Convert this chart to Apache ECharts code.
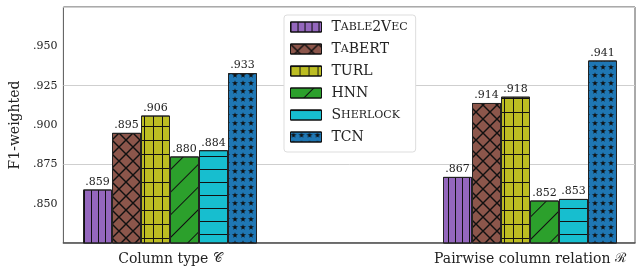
<!DOCTYPE html>
<html>
<head>
<meta charset="utf-8">
<script src="https://cdn.jsdelivr.net/npm/echarts@6/dist/echarts.min.js"></script>
<style>
  html, body { margin: 0; padding: 0; background: #fff; }
  #chart { width: 641px; height: 269px; }
</style>
</head>
<body>
<div id="chart"></div>
<script>
// data
const groups = ['Column type', 'Pairwise column relation'];
const methods = ['Table2Vec', 'TaBERT', 'TURL', 'HNN', 'Sherlock', 'TCN'];
const table2vec = [0.859, 0.867];
const tabert = [0.895, 0.914];
const turl = [0.906, 0.918];
const hnn = [0.880, 0.852];
const sherlock = [0.884, 0.853];
const tcn = [0.933, 0.941];
const yTicks = [0.850, 0.875, 0.900, 0.925, 0.950];

const values = [table2vec, tabert, turl, hnn, sherlock, tcn];
const colors = ['#9467bd', '#8c564b', '#bcbd22', '#2ca02c', '#17becf', '#1f77b4'];
const serif = 'DejaVu Serif';
const ink = '#111';

const star = 'path://M50,0L61.2,34.6L97.6,34.5L68.1,55.9L79.4,90.5L50,69L20.6,90.5L31.9,55.9L2.4,34.5L38.8,34.6Z';
const cross = 'path://M0,0L1,0L14,13L14,14L13,14L0,1ZM14,0L14,1L1,14L0,14L0,13L13,0Z';
const plus = 'path://M0,0L9,0L9,1L1,1L1,14L0,14Z';

const decals = [
  { symbol: 'rect', symbolSize: 1, dashArrayX: [1, 6], dashArrayY: [10, 0], color: ink },
  { symbol: cross, symbolSize: 1, dashArrayX: [14, 0], dashArrayY: [14, 0], color: ink },
  { symbol: plus, symbolSize: 1, dashArrayX: [9, 0], dashArrayY: [14, 0], color: ink },
  { symbol: 'rect', symbolSize: 1, dashArrayX: [10, 0], dashArrayY: [1, 15], rotation: -Math.PI / 4, color: ink },
  { symbol: 'rect', symbolSize: 1, dashArrayX: [10, 0], dashArrayY: [1, 12], color: ink },
  { symbol: star, symbolSize: 1, dashArrayX: [6, 2], dashArrayY: [6, 2], color: ink }
];

// spacer category in the middle so the two groups sit where they do in the figure
const cats = [groups[0], '', groups[1]];

function smallCaps(name) {
  let out = '';
  let buf = '';
  for (const ch of name) {
    if (ch >= 'a' && ch <= 'z') {
      buf += ch.toUpperCase();
    } else {
      if (buf) { out += '{s|' + buf + '}'; buf = ''; }
      out += '{b|' + ch + '}';
    }
  }
  if (buf) out += '{s|' + buf + '}';
  return out;
}

const series = methods.map((m, i) => ({
  name: m,
  type: 'bar',
  xAxisIndex: 1,
  yAxisIndex: 2,
  barWidth: 29,
  barGap: '0%',
  data: [values[i][0], '-', values[i][1]],
  itemStyle: {
    color: colors[i],
    borderColor: '#222',
    borderWidth: 1,
    decal: decals[i]
  },
  label: {
    show: true,
    position: 'top',
    distance: 2,
    fontFamily: serif,
    fontSize: 11,
    color: '#222',
    formatter: p => '.' + Math.round(p.value * 1000)
  }
}));

const chart = echarts.init(document.getElementById('chart'));
chart.setOption({
  animation: false,
  backgroundColor: '#fff',
  grid: [
    { left: 58, right: 6, top: 7, bottom: 26, show: true, borderColor: '#555', borderWidth: 1 },
    { left: 80, right: 21, top: 7, bottom: 26 }
  ],
  legend: {
    orient: 'vertical',
    left: 284,
    top: 15,
    padding: [5, 8, 8, 6],
    itemWidth: 31,
    itemHeight: 10,
    itemGap: 8,
    backgroundColor: '#fff',
    borderColor: '#ddd',
    borderWidth: 1,
    borderRadius: 3,
    icon: 'rect',
    itemStyle: { borderColor: ink, borderWidth: 1 },
    formatter: smallCaps,
    textStyle: {
      fontFamily: serif,
      color: '#222',
      padding: [0, 0, 0, 5],
      rich: {
        b: { fontFamily: serif, fontSize: 14, lineHeight: 14, color: '#222' },
        s: { fontFamily: serif, fontSize: 11, lineHeight: 14, color: '#222' }
      }
    },
    data: methods
  },
  xAxis: [
    {
      type: 'value', gridIndex: 0, min: 0, max: 1,
      axisLine: { show: true, lineStyle: { color: '#555', width: 1.5 } },
      axisTick: { show: false }, axisLabel: { show: false }, splitLine: { show: false }
    },
    {
      type: 'category', gridIndex: 1, data: cats,
      axisLine: { show: false }, axisTick: { show: false },
      axisLabel: {
        margin: 9,
        interval: 0,
        fontFamily: serif,
        fontSize: 14,
        color: '#222',
        formatter: (v, i) => {
          if (i === 0) return v + ' {m|𝒞}';
          if (i === 2) return v + ' {m|ℛ}';
          return '';
        },
        rich: {
          m: { fontFamily: serif, fontSize: 13, color: '#222' }
        }
      }
    }
  ],
  yAxis: [
    {
      type: 'value', gridIndex: 0, min: 0.825, max: 0.975, interval: 0.025,
      name: 'F1-weighted', nameLocation: 'middle', nameGap: 38,
      nameTextStyle: { fontFamily: serif, fontSize: 14, color: '#222' },
      axisLine: { show: false }, axisTick: { show: false }, splitLine: { show: false },
      axisLabel: {
        margin: 6, fontFamily: serif, fontSize: 11, color: '#222',
        formatter: v => yTicks.some(t => Math.abs(t - v) < 1e-6) ? '.' + Math.round(v * 1000) : ''
      }
    },
    {
      type: 'value', gridIndex: 0, min: 0.825, max: 0.975, interval: 0.05,
      axisLine: { show: false }, axisTick: { show: false }, axisLabel: { show: false },
      splitLine: { show: true, lineStyle: { color: '#cfcfcf', width: 1 } }
    },
    {
      type: 'value', gridIndex: 1, min: 0.825, max: 0.975, show: false
    }
  ],
  series: series
});
</script>
</body>
</html>
